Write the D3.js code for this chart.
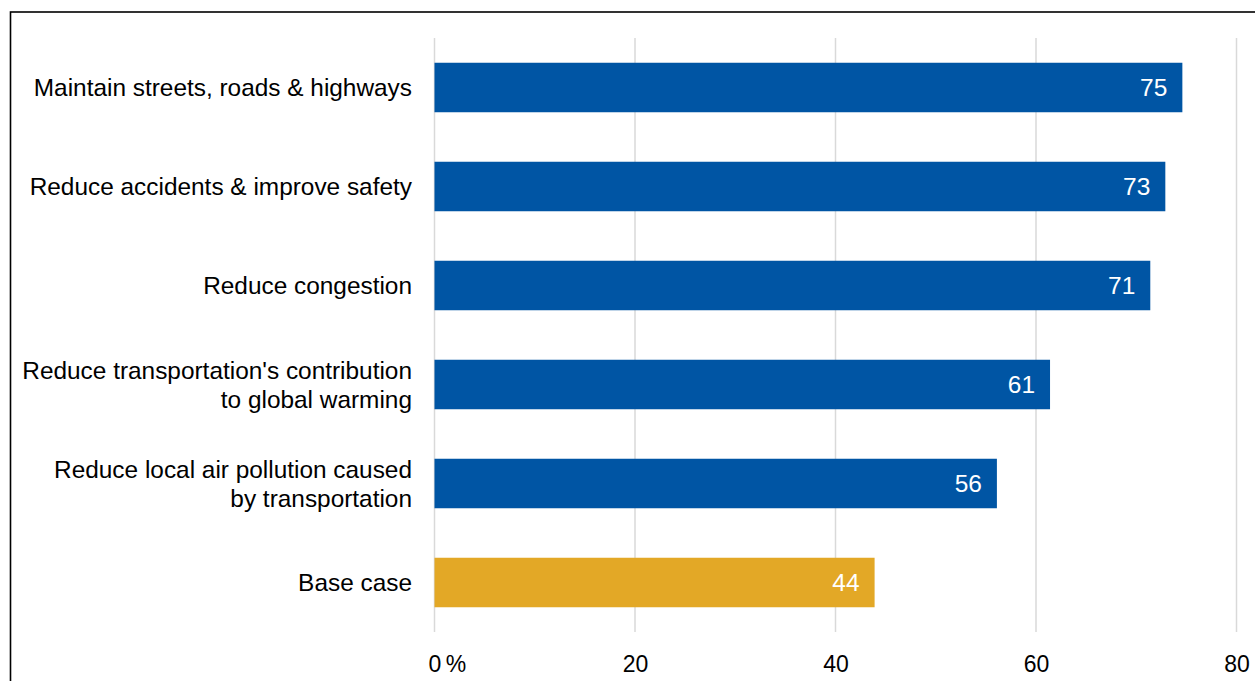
<!DOCTYPE html>
<html>
<head>
<meta charset="utf-8">
<script src="https://cdn.jsdelivr.net/npm/d3@7"></script>
<style>
  html, body { margin: 0; padding: 0; background: #fff; }
  svg { display: block; font-family: "Liberation Sans", Arial, sans-serif; }
</style>
</head>
<body>
<svg id="chart" width="1255" height="681"></svg>
<script>
// Share of respondents supporting each goal (%)
const categories = [
  "Maintain streets, roads & highways",
  "Reduce accidents & improve safety",
  "Reduce congestion",
  "Reduce transportation's contribution\nto global warming",
  "Reduce local air pollution caused\nby transportation",
  "Base case"
];
const values = [74.6, 72.9, 71.4, 61.4, 56.1, 43.9];
const xTicks = [0, 20, 40, 60, 80];

const blue = "#0055a4";
const gold = "#e3a826";

const svg = d3.select("#chart");

// outer frame (runs off the right and bottom edges)
svg.append("rect")
  .attr("x", 10.5).attr("y", 12)
  .attr("width", 1300).attr("height", 700)
  .attr("fill", "none").attr("stroke", "#000").attr("stroke-width", 1.6);

const x = d3.scaleLinear().domain([0, 80]).range([434.5, 1236.5]);
const y = d3.scaleBand().domain(categories).range([38, 632])
  .paddingInner(0.5).paddingOuter(0.25);

// vertical gridlines
svg.append("g").selectAll("line").data(xTicks).join("line")
  .attr("x1", d => x(d)).attr("x2", d => x(d))
  .attr("y1", 38).attr("y2", 632)
  .attr("stroke", "#d9d9d9").attr("stroke-width", 1.5);

// x axis labels
const xAxis = d3.axisBottom(x).tickValues(xTicks).tickSize(0).tickPadding(0)
  .tickFormat(d3.format("d"));
const gx = svg.append("g").attr("transform", "translate(0,672)").call(xAxis);
gx.select(".domain").remove();
gx.selectAll("text")
  .attr("font-size", 23).attr("fill", "#000")
  .attr("font-family", "'Liberation Sans', Arial, sans-serif")
  .attr("y", 0).attr("dy", 0);
gx.selectAll(".tick").filter(d => d === 0).select("text")
  .attr("text-anchor", "start").attr("x", -6.4)
  .append("tspan").attr("dx", -2).text(" %");

// bars
const rows = categories.map((c, i) => ({ c, v: values[i], base: c === "Base case" }));
svg.append("g").selectAll("rect").data(rows).join("rect")
  .attr("x", x(0)).attr("y", d => y(d.c))
  .attr("width", d => x(d.v) - x(0)).attr("height", y.bandwidth())
  .attr("fill", d => d.base ? gold : blue);

// value labels inside bar ends
svg.append("g").selectAll("text").data(rows).join("text")
  .attr("x", d => x(d.v) - 15)
  .attr("y", d => y(d.c) + y.bandwidth() / 2)
  .attr("dy", "0.36em")
  .attr("text-anchor", "end")
  .attr("font-size", 24.5).attr("fill", "#fff")
  .text(d => d3.format(".0f")(d.v));

// category labels
const lab = svg.append("g").selectAll("text").data(rows).join("text")
  .attr("x", 412)
  .attr("y", d => y(d.c) + y.bandwidth() / 2)
  .attr("text-anchor", "end")
  .attr("font-size", 24.4).attr("fill", "#000");
lab.each(function(d) {
  const lines = d.c.split("\n");
  const lh = 29;
  const t = d3.select(this);
  lines.forEach((ln, k) => {
    t.append("tspan")
      .attr("x", 412)
      .attr("y", y(d.c) + y.bandwidth() / 2 + (k - (lines.length - 1) / 2) * lh)
      .attr("dy", "0.36em")
      .text(ln);
  });
});
</script>
</body>
</html>
